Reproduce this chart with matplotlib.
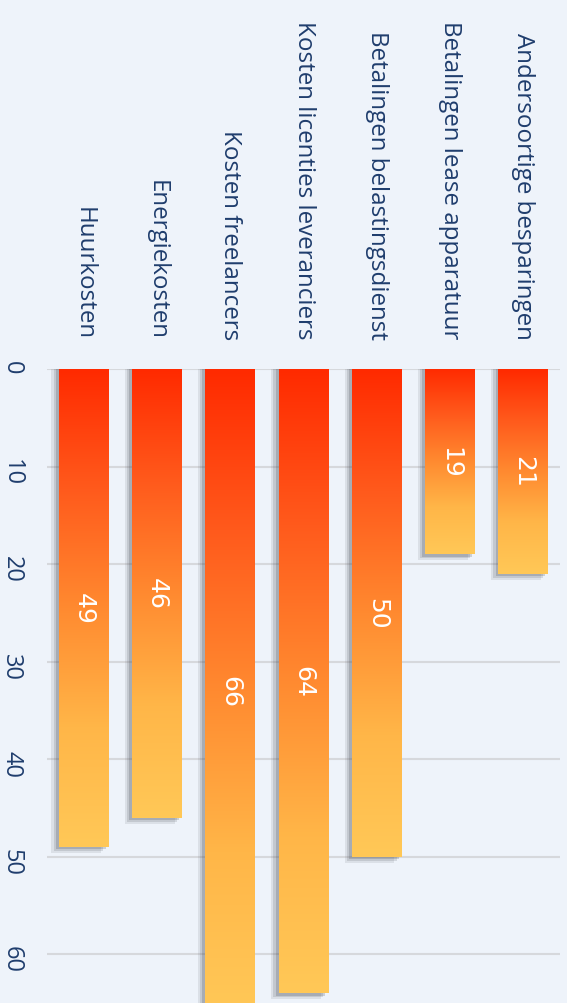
import matplotlib.pyplot as plt
import numpy as np
from matplotlib.colors import LinearSegmentedColormap
from matplotlib.patches import Rectangle

categories = ['Huurkosten', 'Energiekosten', 'Kosten freelancers',
              'Kosten licenties leveranciers', 'Betalingen belastingsdienst',
              'Betalingen lease apparatuur', 'Andersoortige besparingen']
values = [49, 46, 66, 64, 50, 19, 21]
ticks = [0, 10, 20, 30, 40, 50, 60]

bg = '#eef3fa'
text_col = '#1f3d6d'
cmap = LinearSegmentedColormap.from_list('grad', ['#ff2a00', '#ff5a1c', '#ff8a30', '#ffb648', '#ffc857'])

fig = plt.figure(figsize=(5.67, 10.04), dpi=100)
fig.patch.set_facecolor(bg)
ax = fig.add_axes([47 / 567, 0, 513 / 567, 634 / 1004])
ax.set_facecolor(bg)

w = 0.68
grad = np.linspace(0, 1, 256).reshape(-1, 1)
for i, v in enumerate(values):
    # soft shadow on the left / bottom
    for k, a in zip([0.10, 0.07, 0.04], [0.10, 0.15, 0.20]):
        ax.add_patch(Rectangle((i - w / 2 - k, 0), w, v + k * 6, color='#3a4049', alpha=a, zorder=2, lw=0))
    ax.imshow(grad, extent=[i - w / 2, i + w / 2, v, 0], aspect='auto', cmap=cmap, zorder=3)
    ax.text(i, v / 2, str(v), rotation=-90, ha='center', va='center', color='white',
            fontsize=18, family='DejaVu Sans', zorder=4)
    ax.text(i, -3.1, categories[i], rotation=-90, rotation_mode='anchor', ha='right', va='center',
            color=text_col, fontsize=17.4, family='Open Sans', clip_on=False)

ax.set_xlim(-0.5, 6.5)
ax.set_ylim(65, 0)
ax.set_xticks([])
ax.set_yticks(ticks)
ax.set_yticklabels([str(t) for t in ticks], rotation=-90, color=text_col, fontsize=17, family='Open Sans')
ax.tick_params(axis='y', length=0, pad=17)
ax.grid(axis='y', color='#d6d8dc', lw=1.5, zorder=1)
ax.set_axisbelow(True)
for s in ax.spines.values():
    s.set_visible(False)

fig.savefig('out.png', dpi=100, facecolor=bg)
